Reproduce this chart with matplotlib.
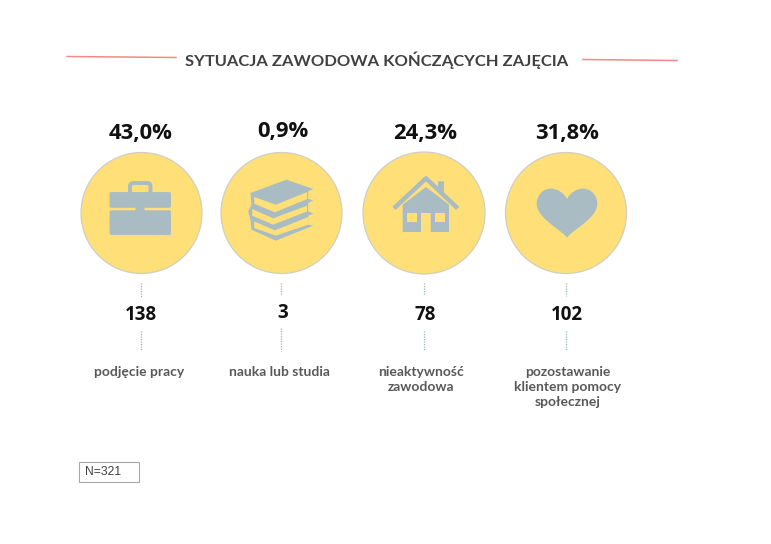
import matplotlib
matplotlib.use("Agg")
import matplotlib.pyplot as plt
from matplotlib.patches import Circle, Polygon, PathPatch, Rectangle, FancyBboxPatch
from matplotlib.path import Path

title = "SYTUACJA ZAWODOWA KOŃCZĄCYCH ZAJĘCIA"
percents = ["43,0%", "0,9%", "24,3%", "31,8%"]
counts = ["138", "3", "78", "102"]
labels = ["podjęcie pracy", "nauka lub studia", "nieaktywność\nzawodowa",
          "pozostawanie\nklientem pomocy\nspołecznej"]
note = "N=321"

W, H = 771, 544
GREY = "#A9BCC3"
YEL = "#FEDF78"
TXT = "#595959"

fig = plt.figure(figsize=(W / 100, H / 100), dpi=100)
ax = fig.add_axes([0, 0, 1, 1])
ax.set_xlim(0, W)
ax.set_ylim(H, 0)
ax.axis("off")

centers = [(141.5, 213), (281.5, 213), (424, 213), (566, 213)]
radii = [60.5, 60.5, 61, 60.5]
pct_xy = [(141, 133), (283, 131), (425, 133), (567, 133)]
cnt_xy = [(141, 314.5), (283, 312.5), (425, 314.5), (567, 314.5)]
lab_x = [139, 279, 421, 568]
dots = [[(283, 297), (331, 351)], [(283, 295), (328, 351)],
        [(283, 295), (331, 351)], [(283, 296), (331, 351)]]
dot_x = [140.5, 280.5, 423.5, 565.5]


def poly(cx, cy, pts, fc=GREY, zorder=3):
    ax.add_patch(Polygon([(cx + x / 3, cy + y / 3) for x, y in pts], closed=True,
                         fc=fc, ec="none", zorder=zorder))


def line(cx, cy, pts, lw=2.2, color=GREY, z=3):
    ax.plot([cx + x / 3 for x, y in pts], [cy + y / 3 for x, y in pts],
            color=color, lw=lw, solid_capstyle="butt", solid_joinstyle="round", zorder=z)


def briefcase(cx, cy):
    ax.add_patch(FancyBboxPatch((cx - 31.5, cy - 20.5), 60.5, 14.8, boxstyle="round,pad=0,rounding_size=1.2",
                                fc=GREY, ec=GREY, lw=0.6, zorder=3))
    ax.add_patch(FancyBboxPatch((cx - 31.5, cy - 2.2), 60.5, 23.7, boxstyle="round,pad=0,rounding_size=1.2",
                                fc=GREY, ec=GREY, lw=0.6, zorder=3))
    ax.add_patch(FancyBboxPatch((cx - 11.5, cy - 30), 20.5, 12, boxstyle="round,pad=0,rounding_size=3.5",
                                fc="none", ec=GREY, lw=2.8, zorder=3))
    ax.add_patch(FancyBboxPatch((cx - 6, cy - 7), 9, 9, boxstyle="round,pad=0,rounding_size=2.5",
                                fc=GREY, ec="none", zorder=4))


def books(cx, cy):
    poly(cx, cy, [(-93, -60), (15, -100), (95, -72), (80, -65), (80, -42), (95, -38), (80, -30),
                  (80, -5), (95, 2), (80, 8), (80, 35), (95, 38), (-17, 83), (-90, 50),
                  (-93, 20), (-100, -5), (-90, -25)])
    poly(cx, cy, [(-82, -48), (-17, -25), (77, -63), (77, -42), (-20, -2), (-82, -28)], fc=YEL, zorder=4)
    poly(cx, cy, [(-88, -12), (-25, 16), (77, -22), (77, -5), (-25, 35), (-88, 8)], fc=YEL, zorder=4)
    poly(cx, cy, [(-82, 25), (-20, 52), (80, 12), (80, 35), (-17, 68), (-82, 45)], fc=YEL, zorder=4)


def house(cx, cy):
    line(cx, cy, [(-90, -14), (6, -104), (101, -14)], lw=3.2)
    poly(cx, cy, [(42, -95), (60, -95), (60, -45), (42, -62)])
    poly(cx, cy, [(-64, -25), (6, -78), (75, -25), (75, 57), (20, 57), (20, 0), (-9, 0), (-9, 57), (-64, 57)])
    poly(cx, cy, [(-50, 0), (-22, 0), (-22, 28), (-50, 28)], fc=YEL, zorder=4)
    poly(cx, cy, [(33, 0), (63, 0), (63, 28), (33, 28)], fc=YEL, zorder=4)


def heart(cx, cy):
    half = [(0, -42), (-10, -62), (-30, -73), (-48, -73), (-75, -73), (-91, -50), (-91, -28),
            (-91, 0), (-62, 22), (-40, 40), (-20, 55), (-5, 65), (0, 75)]
    right = [(-x, y) for x, y in reversed(half)][1:]
    verts = [(cx + x / 3 + 1, cy + y / 3) for x, y in half + right]
    codes = [Path.MOVETO] + [Path.CURVE4] * (len(verts) - 1)
    ax.add_patch(PathPatch(Path(verts, codes), fc=GREY, ec="none", zorder=3))


icons = [briefcase, books, house, heart]

ax.plot([67, 176], [56.5, 57.5], color="#F28A8A", lw=1.1)
ax.plot([583, 677], [59.5, 60.5], color="#F28A8A", lw=1.1)
ax.text(377, 60, title, ha="center", va="center", fontsize=11.85, fontweight="bold",
        family="Lato", color="#404040")

for i in range(4):
    cx, cy = centers[i]
    ax.add_patch(Circle((cx, cy), radii[i], fc=YEL, ec="#CFCFC4", lw=0.9, zorder=2))
    icons[i](cx, cy)
    ax.text(*pct_xy[i], percents[i], ha="center", va="center", fontsize=15.8, fontweight="bold",
            family="Open Sans", color="#111111")
    ax.text(*cnt_xy[i], counts[i], ha="center", va="center", fontsize=13.5, fontweight="bold",
            family="Open Sans", color="#111111")
    ax.text(lab_x[i], 366, labels[i], ha="center", va="top", fontsize=10, fontweight="bold",
            family="Lato", color=TXT, linespacing=1.28)
    for a, b in dots[i]:
        ax.plot([dot_x[i], dot_x[i]], [a, b], color="#9FB4BC", lw=0.9, ls=(0, (1, 1)))

ax.add_patch(Rectangle((79, 462), 60, 20, fc="white", ec="#A6A6A6", lw=0.8))
ax.text(85, 472, note, ha="left", va="center", fontsize=8.7, family="Liberation Sans", color="#404040")

fig.savefig("out.png", dpi=100, facecolor="white")
